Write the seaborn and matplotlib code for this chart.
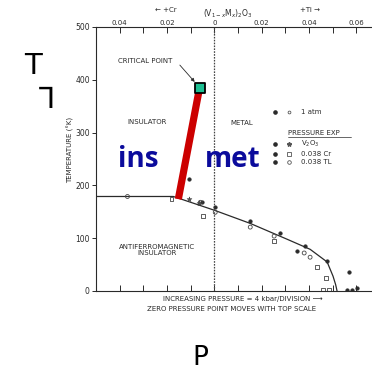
import matplotlib
matplotlib.use("Agg")
import matplotlib.pyplot as plt
import seaborn as sns
from matplotlib.lines import Line2D
from matplotlib.legend_handler import HandlerTuple
from matplotlib.ticker import FixedLocator, FixedFormatter

# ---------------- data (composition x, temperature K) ----------------
boundary_x = [-0.05, -0.0173, 0.0, 0.0152, 0.0308, 0.0405, 0.0477, 0.0502, 0.0513, 0.0519]
boundary_T = [179, 179, 153, 128, 98, 79, 55, 28, 12, 0]

atm_x = [-0.0105, -0.0051, 0.0004, 0.0152, 0.0278, 0.0350, 0.0384, 0.0477, 0.0570, 0.0561, 0.0582, 0.0603]
atm_T = [213, 168, 160, 132, 109, 75, 85, 57, 36, 2, 2, 6]

v2o3_x = [-0.0105, -0.0063]
v2o3_T = [174, 166]

cr_x = [-0.0181, -0.0046, 0.0253, 0.0435, 0.0473, 0.0460, 0.0485]
cr_T = [174, 142, 94, 45, 25, 2, 2]

ti_x = [-0.0367, -0.0059, 0.0004, 0.0152, 0.0253, 0.0380, 0.0405]
ti_T = [179, 168, 149, 121, 104, 72, 64]

red_x = [-0.0152, -0.0063]
red_T = [174, 383]

crit_x = [-0.0061]
crit_T = [384]

major_ticks = [-0.04, -0.02, 0.0, 0.02, 0.04, 0.06]
major_labels = ["0.04", "0.02", "0", "0.02", "0.04", "0.06"]
minor_ticks = [-0.03, -0.01, 0.01, 0.03, 0.05]
y_ticks = [0, 100, 200, 300, 400, 500]

# ---------------- style ----------------
sns.set_theme(style="white")
plt.rcParams["font.family"] = ["DejaVu Sans", "Noto Sans"]
INK = "#2a2a2a"

W = 372
fig = plt.figure(figsize=(3.72, 3.72), dpi=100)
fig.patch.set_facecolor("white")


def fpx(x, y):
    return (x / W, 1 - y / W)


ax = fig.add_axes([96 / W, 1 - 291 / W, (W - 96) / W, (291 - 27) / W])
ax.set_facecolor("white")
ax.set_xlim(-0.05, (W - 214) / 2370)
ax.set_ylim(0, 500)

# phase boundary
sns.lineplot(x=boundary_x, y=boundary_T, sort=False, estimator=None, color=INK, lw=0.9, ax=ax)
# zero-pressure dotted line
ax.axvline(0, color="#444", lw=0.9, ls=(0, (1.3, 1.0)), zorder=1)

# data points
sns.scatterplot(x=atm_x, y=atm_T, marker="o", s=7, color=INK, edgecolor=INK, linewidth=0.3, ax=ax, zorder=3)
sns.scatterplot(x=v2o3_x, y=v2o3_T, marker="*", s=14, color="#555", edgecolor=INK, linewidth=0.3, ax=ax, zorder=3)
sns.scatterplot(x=cr_x, y=cr_T, marker="s", s=8, fc="none", ec="#444", linewidth=0.6, ax=ax, zorder=3)
sns.scatterplot(x=ti_x, y=ti_T, marker="o", s=8, fc="none", ec="#444", linewidth=0.6, ax=ax, zorder=3)

# red line + critical point
sns.lineplot(x=red_x, y=red_T, sort=False, estimator=None, color="#cc0000", lw=5.2,
             solid_capstyle="butt", ax=ax, zorder=4)
sns.scatterplot(x=crit_x, y=crit_T, marker="s", s=55, color="#1dbf92", edgecolor="black",
                linewidth=1.3, ax=ax, zorder=5)

# axes / ticks
for side in ["top", "left", "bottom"]:
    ax.spines[side].set_color(INK)
    ax.spines[side].set_linewidth(0.8)
ax.spines["right"].set_visible(False)

ax.xaxis.set_major_locator(FixedLocator(major_ticks))
ax.xaxis.set_major_formatter(FixedFormatter(major_labels))
ax.xaxis.set_minor_locator(FixedLocator(minor_ticks))
ax.xaxis.set_ticks_position("both")
ax.tick_params(axis="x", which="both", direction="in", top=True, bottom=True,
               labelbottom=False, labeltop=True, labelsize=5, pad=1, length=4,
               width=0.7, color=INK, labelcolor=INK)
ax.set_yticks(y_ticks)
ax.tick_params(axis="y", direction="out", left=True, length=3, width=0.7, labelsize=5.5,
               pad=1.5, color=INK, labelcolor=INK)
ax.set_ylabel("TEMPERATURE (°K)", fontsize=5, color=INK)
ax.yaxis.set_label_coords((74 - 96) / 276, (291 - 150) / 264)
ax.set_xlabel("")

# region labels
fs = 5
fig.text(*fpx(145, 61), "CRITICAL POINT", fontsize=fs, ha="center", va="center", color=INK)
fig.text(*fpx(147, 122), "INSULATOR", fontsize=fs, ha="center", va="center", color=INK)
fig.text(*fpx(242, 123), "METAL", fontsize=fs, ha="center", va="center", color=INK)
fig.text(*fpx(157, 250), "ANTIFERROMAGNETIC\nINSULATOR", fontsize=fs, ha="center", va="center",
         color=INK, linespacing=1.15)
ax.annotate("", xy=(crit_x[0] - 0.0014, crit_T[0] + 8), xycoords="data",
            xytext=fpx(178, 63), textcoords="figure fraction",
            arrowprops=dict(arrowstyle="-|>", lw=0.6, color=INK, mutation_scale=5))

# top / bottom captions
fig.text(*fpx(166, 10), "← +Cr", fontsize=fs, ha="center", va="center", color=INK)
fig.text(*fpx(228, 14), "(V$_{1-x}$M$_{x}$)$_{2}$O$_{3}$", fontsize=fs + 0.5, ha="center", va="center", color=INK)
fig.text(*fpx(310, 10), "+Ti →", fontsize=fs, ha="center", va="center", color=INK)
fig.text(*fpx(243, 299), "INCREASING PRESSURE = 4 kbar/DIVISION ⟶", fontsize=fs, ha="center",
         va="center", color=INK)
fig.text(*fpx(232, 309), "ZERO PRESSURE POINT MOVES WITH TOP SCALE", fontsize=fs, ha="center",
         va="center", color=INK)

# legend
h_dot = Line2D([], [], ls="none", marker="o", ms=2.3, color=INK)
h_small = Line2D([], [], ls="none", marker="o", ms=2.0, mfc="none", mec="#555", mew=0.6)
h_star = Line2D([], [], ls="none", marker="*", ms=3.2, color="#555")
h_sq = Line2D([], [], ls="none", marker="s", ms=2.4, mfc="none", mec="#555", mew=0.6)
h_circ = Line2D([], [], ls="none", marker="o", ms=2.6, mfc="none", mec="#555", mew=0.6)
common = dict(frameon=False, fontsize=fs, handlelength=4, handletextpad=0.7, borderpad=0,
              borderaxespad=0, labelcolor=INK, handler_map={tuple: HandlerTuple(ndivide=None, pad=0)})
fig.legend([(h_dot, h_small)], ["1 atm"], loc="upper left", bbox_to_anchor=fpx(268, 109),
           labelspacing=0.3, **common)
fig.legend([(h_dot, h_star), (h_dot, h_sq), (h_dot, h_circ)], ["V$_2$O$_3$", "0.038 Cr", "0.038 TL"],
           loc="upper left", bbox_to_anchor=fpx(268, 139), labelspacing=0.3, **common)
fig.text(*fpx(288, 133), "PRESSURE EXP", fontsize=fs, ha="left", va="center", color=INK)
fig.add_artist(Line2D([288 / W, 351 / W], [1 - 137 / W, 1 - 137 / W], color=INK, lw=0.5))

# overlay annotations
fig.text(*fpx(138, 167), "ins", fontsize=20, fontweight="bold", family=["Open Sans", "DejaVu Sans"],
         ha="center", va="baseline", color="#0b0b9c")
fig.text(*fpx(233, 167), "met", fontsize=20, fontweight="bold", family=["Open Sans", "DejaVu Sans"],
         ha="center", va="baseline", color="#0b0b9c")
fig.text(*fpx(33, 74), "T", fontsize=21, ha="center", va="baseline", color="black",
         family=["DejaVu Sans", "Noto Sans"])
fig.text(*fpx(47, 108), "\u2142", fontsize=21, ha="center", va="baseline", color="black",
         family=["DejaVu Sans", "Noto Sans"])
fig.text(*fpx(200, 365), "P", fontsize=19, ha="center", va="baseline", color="black",
         family=["DejaVu Sans", "Noto Sans"])

fig.savefig("out.png", dpi=100, facecolor="white")
